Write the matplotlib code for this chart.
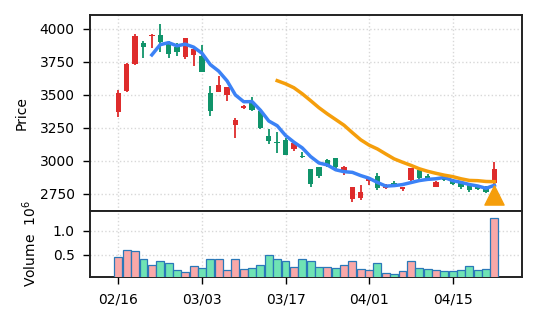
import numpy as np
import pandas as pd
import matplotlib
matplotlib.use('Agg')
import matplotlib.pyplot as plt

# daily OHLC (trading day index 0..45)
opens = [3374, 3530, 3733, 3891, 3945, 3955, 3904, 3866, 3790, 3803,
         3798, 3513, 3520, 3498, 3273, 3405, 3442, 3379, 3189, 3146,
         3159, 3089, 3040, 2937, 2952, 3005, 3020, 2919, 2710, 2717,
         2848, 2889, 2793, 2831, 2788, 2856, 2932, 2889, 2801, 2870,
         2856, 2831, 2818, 2813, 2806, 2831]
highs = [3538, 3745, 3960, 3909, 3962, 4036, 3909, 3891, 3929, 3854,
         3879, 3568, 3646, 3561, 3328, 3422, 3487, 3390, 3242, 3222,
         3172, 3146, 3070, 2937, 2952, 3015, 3020, 2962, 2801, 2818,
         2869, 2906, 2823, 2845, 2806, 2950, 2944, 2900, 2848, 2878,
         2861, 2835, 2826, 2818, 2810, 2990]
lows = [3336, 3523, 3727, 3783, 3858, 3828, 3783, 3795, 3770, 3722,
        3672, 3343, 3520, 3455, 3172, 3395, 3381, 3245, 3126, 3058,
        3045, 3079, 3020, 2806, 2870, 2955, 2932, 2896, 2687, 2705,
        2818, 2783, 2786, 2808, 2770, 2843, 2858, 2845, 2801, 2850,
        2815, 2790, 2765, 2780, 2755, 2818]
closes = [3517, 3733, 3944, 3866, 3958, 3904, 3811, 3823, 3929, 3846,
          3672, 3381, 3576, 3561, 3311, 3415, 3386, 3248, 3154, 3133,
          3045, 3134, 3030, 2826, 2889, 2970, 2952, 2957, 2801, 2767,
          2869, 2793, 2818, 2820, 2806, 2944, 2869, 2864, 2843, 2856,
          2823, 2806, 2780, 2788, 2767, 2939]
# volume in 10^6
volume = [0.45, 0.60, 0.58, 0.41, 0.30, 0.37, 0.33, 0.20, 0.16, 0.28,
          0.24, 0.42, 0.42, 0.20, 0.42, 0.22, 0.24, 0.30, 0.51, 0.42,
          0.37, 0.26, 0.42, 0.38, 0.26, 0.26, 0.24, 0.30, 0.37, 0.22,
          0.19, 0.33, 0.14, 0.12, 0.17, 0.38, 0.24, 0.22, 0.19, 0.17,
          0.17, 0.19, 0.28, 0.19, 0.22, 1.26]
# 1 = pink (up) volume bar, 0 = green
vol_up = [1, 1, 1, 0, 1, 0, 0, 0, 1, 1,
          0, 0, 1, 1, 1, 1, 0, 0, 0, 0,
          0, 1, 0, 0, 0, 1, 0, 1, 1, 1,
          1, 0, 1, 0, 1, 1, 0, 0, 1, 0,
          0, 0, 0, 0, 0, 1]
# buy signal marker (only on the last day)
signal_day = 45
signal_price = 2742

tick_pos = [0, 10, 20, 30, 40]
tick_labels = ['02/16', '03/03', '03/17', '04/01', '04/15']

RED = '#de2c2c'
GREEN = '#10946a'
VPINK = '#f9a8a8'
VGREEN = '#6fe3b4'
VEDGE = '#2a78b8'
BLUE = '#3b82f6'
ORANGE = '#f59e0b'

df = pd.DataFrame({'Open': opens, 'High': highs, 'Low': lows,
                   'Close': closes, 'Volume': volume})
df['ma5'] = df.Close.rolling(5).mean()
df['ma20'] = df.Close.rolling(20).mean()
x = np.arange(len(df))

fig = plt.figure(figsize=(5.37, 3.22), dpi=100)
ax = fig.add_axes([90/537, 1-211/322, 432/537, 196/322])
axv = fig.add_axes([90/537, 1-277/322, 432/537, 66/322], sharex=ax)

up = df.Close >= df.Open
colors = np.where(up, RED, GREEN)
body_lo = np.minimum(df.Open, df.Close)
body_h = np.maximum(np.abs(df.Close - df.Open), 8)

##### CANDLES #####
ax.vlines(x, df.Low, df.High, colors=colors, linewidth=1.3, zorder=2)
ax.bar(x, body_h, bottom=body_lo, width=0.64, color=colors, zorder=3)
ax.plot(x, df.ma5, color=BLUE, lw=2.5, zorder=4)
ax.plot(x, df.ma20, color=ORANGE, lw=2.5, zorder=4)
ax.scatter([signal_day], [signal_price], marker='^', s=190, color=ORANGE, zorder=5)

ax.set_ylim(2621, 4106)
ax.set_yticks([2750, 3000, 3250, 3500, 3750, 4000])
ax.set_ylabel('Price', fontsize=10, labelpad=8)
ax.tick_params(axis='x', labelbottom=False, length=0)

##### VOLUME #####
vcol = [VPINK if v else VGREEN for v in vol_up]
axv.bar(x, df.Volume, width=0.95, color=vcol, edgecolor=VEDGE, linewidth=0.9, zorder=3)
axv.set_ylim(0.05, 1.40)
axv.set_yticks([0.5, 1.0])
axv.set_ylabel('Volume  $10^{6}$', fontsize=10, labelpad=10)
axv.set_xticks(tick_pos)
axv.set_xticklabels(tick_labels)
axv.set_xlim(-3.4, 48.3)

for a in (ax, axv):
    a.grid(True, linestyle=':', color='#d8d8d8', linewidth=1, zorder=0)
    a.set_axisbelow(True)
    a.tick_params(axis='y', labelsize=10, length=5, width=1, pad=6)
    for s in a.spines.values():
        s.set_linewidth(1.4)
        s.set_color('#222222')
axv.tick_params(axis='x', labelsize=10, length=5, width=1, pad=6)

fig.savefig('out.png', dpi=100)
